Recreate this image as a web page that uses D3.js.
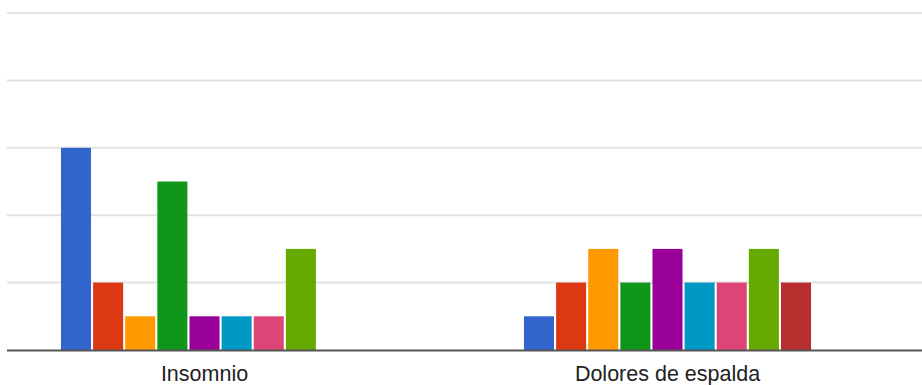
<!DOCTYPE html>
<html>
<head>
<meta charset="utf-8">
<script src="https://cdn.jsdelivr.net/npm/d3@7"></script>
<style>
  html, body { margin: 0; padding: 0; background: #fff; }
  svg { display: block; }
</style>
</head>
<body>
<svg id="chart" width="922" height="385"></svg>
<script>
// Categories and the nine answer series (one value per category)
const categories = ["Insomnio", "Dolores de espalda"];
const seriesNames = ["s1", "s2", "s3", "s4", "s5", "s6", "s7", "s8", "s9"];
const seriesColors = ["#3366cc", "#dc3912", "#ff9900", "#109618", "#990099", "#0099c6", "#dd4477", "#66aa00", "#b82e2e"];
const insomnioValues = [6, 2, 1, 5, 1, 1, 1, 3, 0];
const doloresValues  = [1, 2, 3, 2, 3, 2, 2, 3, 2];
const gridTicks = [0, 2, 4, 6, 8, 10];

const valuesByCategory = [insomnioValues, doloresValues];

const svg = d3.select("#chart");
const W = 922;

const y = d3.scaleLinear().domain([0, 10]).range([350, 13]);

const x0 = d3.scaleBand()
  .domain(categories)
  .range([-27, 899])
  .paddingInner(0.38)
  .paddingOuter(0.19);

const x1 = d3.scaleBand()
  .domain(seriesNames)
  .range([0, x0.bandwidth()])
  .paddingInner(0.065);

const gridLeft = 7;

// horizontal gridlines
svg.append("g")
  .selectAll("line")
  .data(gridTicks.filter(d => d > 0))
  .join("line")
  .attr("x1", gridLeft)
  .attr("x2", W)
  .attr("y1", d => y(d))
  .attr("y2", d => y(d))
  .attr("stroke", "#e2e2e2")
  .attr("stroke-width", 2);

// bars
const groups = svg.append("g")
  .selectAll("g")
  .data(categories.map((c, i) => ({ cat: c, vals: valuesByCategory[i] })))
  .join("g")
  .attr("transform", d => `translate(${x0(d.cat)},0)`);

groups.selectAll("rect")
  .data(d => d.vals.map((v, j) => ({ name: seriesNames[j], value: v, color: seriesColors[j] })))
  .join("rect")
  .filter(d => d.value > 0)
  .attr("x", d => x1(d.name))
  .attr("width", x1.bandwidth())
  .attr("y", d => y(d.value))
  .attr("height", d => y(0) - y(d.value))
  .attr("fill", d => d.color);

// baseline
svg.append("line")
  .attr("x1", gridLeft)
  .attr("x2", W)
  .attr("y1", y(0) + 0.5)
  .attr("y2", y(0) + 0.5)
  .attr("stroke", "#555")
  .attr("stroke-width", 2);

// category labels
const xAxis = d3.axisBottom(x0).tickSize(0).tickPadding(0);
const ax = svg.append("g")
  .attr("transform", `translate(0,${y(0)})`)
  .call(xAxis);
ax.select(".domain").remove();
ax.selectAll("text")
  .attr("dy", null)
  .attr("y", 31)
  .attr("font-family", "Arial, 'Liberation Sans', sans-serif")
  .attr("font-size", "21.5px")
  .attr("fill", "#222");
</script>
</body>
</html>
